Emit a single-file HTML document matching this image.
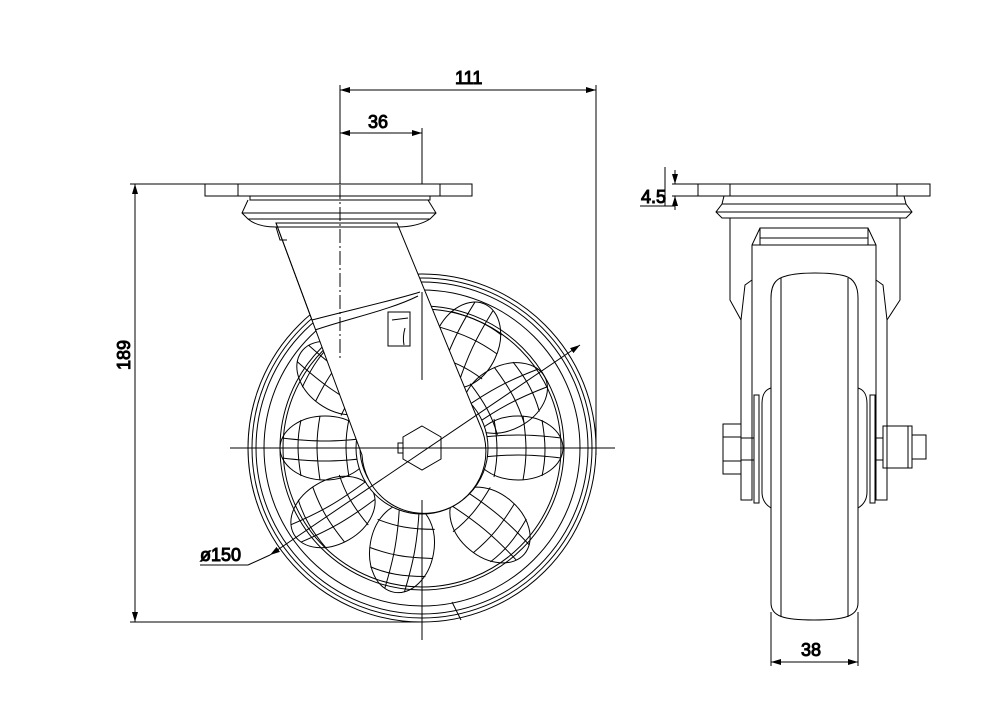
<!DOCTYPE html>
<html><head><meta charset="utf-8"><style>
html,body{margin:0;padding:0;background:#fff}
svg{display:block}
text{font-family:"Liberation Sans",sans-serif;font-size:18px;fill:#000;font-weight:normal}
</style></head><body>
<svg width="1005" height="720" viewBox="0 0 1005 720" xmlns="http://www.w3.org/2000/svg" fill="none" stroke="#000" stroke-width="1">
<defs>
<marker id="a" viewBox="0 0 10 6" refX="10" refY="3" markerWidth="10" markerHeight="6" orient="auto-start-reverse" markerUnits="userSpaceOnUse"><path d="M0,0 L10,3 L0,6 Z" fill="#000" stroke="none"/></marker>
<g id="lobe">
<ellipse cx="0" cy="0" rx="45" ry="32"/>
<path d="M-24,-29 C-20,-5 -20,10 -24,29 M5,-32 C9,-5 9,10 5,32 M24,-28 C28,-5 28,10 24,28 M-43,-10 C-10,-14 10,-14 43,-10 M-43,10 C-10,6 10,6 43,10"/>
</g>
</defs>

<!-- dimensions left view -->
<line x1="340" y1="85" x2="340" y2="185"/>
<line x1="596" y1="85" x2="596" y2="455"/>
<line x1="340" y1="90" x2="596" y2="90" marker-start="url(#a)" marker-end="url(#a)"/>
<text x="455" y="84">111</text>
<line x1="422" y1="128" x2="422" y2="185"/>
<line x1="340" y1="133" x2="422" y2="133" marker-start="url(#a)" marker-end="url(#a)"/>
<text x="368" y="128">36</text>
<line x1="130" y1="184" x2="205" y2="184"/>
<line x1="130" y1="622" x2="420" y2="622"/>
<line x1="135" y1="184" x2="135" y2="622" marker-start="url(#a)" marker-end="url(#a)"/>
<text transform="translate(130,370) rotate(-90)">189</text>

<!-- wheel front -->
<circle cx="422" cy="448" r="174"/>
<circle cx="422" cy="448" r="170"/>
<circle cx="422" cy="448" r="166"/>
<circle cx="422" cy="448" r="158"/>
<circle cx="422" cy="448" r="142"/>
<circle cx="422" cy="448" r="139"/>
<line x1="452" y1="602" x2="461" y2="620"/>
<g>
<use href="#lobe" transform="translate(518,448) rotate(0)"/>
<use href="#lobe" transform="translate(505,398) rotate(-28)"/>
<use href="#lobe" transform="translate(466,345) rotate(-65)"/>
<use href="#lobe" transform="translate(490,525) rotate(40)"/>
<use href="#lobe" transform="translate(402,548) rotate(100)"/>
<use href="#lobe" transform="translate(333,512) rotate(150)"/>
<use href="#lobe" transform="translate(325,448) rotate(180)"/>
<use href="#lobe" transform="translate(338,378) rotate(215)"/>
</g>
<circle cx="422" cy="448" r="66" fill="#fff"/>
<circle cx="422" cy="448" r="62"/>

<!-- fork -->
<path d="M276,223 L362,455 A62,62 0 1 0 480,425 L397,223 Z" fill="#fff"/>
<path d="M315,330 C350,318 390,310 418,296"/>
<path d="M276,223 L312,320 C350,310 395,300 420,292"/>
<rect x="388" y="312" width="22" height="34"/>
<path d="M392,320 L408,318 M405,328 C403,335 403,340 404,345"/>
<polygon points="422,426 441,437 441,459 422,470 403,459 403,437" fill="#fff"/>
<rect x="398" y="443" width="5" height="10"/>

<!-- top plate left -->
<rect x="205" y="184" width="267" height="12" fill="#fff"/>
<line x1="238" y1="184" x2="238" y2="196"/>
<line x1="440" y1="184" x2="440" y2="196"/>
<path d="M250,196 L250,200 L430,200 L430,196 M248,200 L242,213 L248,219 L430,219 L436,213 L428,200 M242,213 L436,213 M248,219 C255,225 265,227 276,227 L397,227 C410,227 422,224 430,219"/>
<path d="M276,227 L280,240 L287,240"/>

<!-- center lines -->
<line x1="340" y1="185" x2="340" y2="360" stroke-dasharray="14,3,2,3"/>
<line x1="230" y1="448" x2="615" y2="448"/>
<line x1="422" y1="292" x2="422" y2="380"/>
<line x1="422" y1="500" x2="422" y2="640"/>

<!-- diameter leader -->
<line x1="580" y1="345" x2="270" y2="555" marker-start="url(#a)" marker-end="url(#a)"/>
<line x1="270" y1="555" x2="248" y2="565"/>
<line x1="200" y1="565" x2="248" y2="565"/>
<text x="200" y="561">ø150</text>

<!-- right view -->
<rect x="698" y="184" width="232" height="12"/>
<line x1="730" y1="184" x2="730" y2="196"/>
<line x1="897" y1="184" x2="897" y2="196"/>
<path d="M724,196 L722,204 L716,212 L722,218 L906,218 L912,212 L906,204 L904,196 M722,204 L906,204 M716,212 L912,212"/>
<path d="M730,218 L730,300 L741,320 L741,500 L752,500 L752,245 L760,228 L868,228 L876,245 L876,500 L887,500 L887,320 L900,300 L900,218"/>
<path d="M752,245 L760,245 L760,228 M868,228 L868,245 L876,245 M760,238 L868,238 M760,245 L868,245"/>
<path d="M741,320 L745,285 L752,280 M887,320 L883,285 L876,280"/>
<path d="M771,298 C771,282 778,278 786,276 C800,272 830,272 845,276 C852,278 858,284 858,298 L858,603 C858,616 845,620 814,620 C783,620 771,616 771,603 Z" fill="#fff"/>
<line x1="781" y1="278" x2="781" y2="617"/>
<line x1="848" y1="278" x2="848" y2="617"/>
<path d="M771,388 C764,390 762,396 762,404 L762,492 C762,500 766,505 771,508 M858,388 C865,390 867,396 867,404 L867,492 C867,500 863,505 858,508"/>
<rect x="754" y="395" width="5" height="108"/>
<rect x="870" y="395" width="5" height="108"/>
<rect x="723" y="424" width="18" height="50"/>
<line x1="723" y1="437" x2="741" y2="437"/><line x1="723" y1="461" x2="741" y2="461"/>
<rect x="741" y="438" width="13" height="22"/>
<rect x="875" y="438" width="8" height="22"/>
<rect x="883" y="426" width="29" height="42"/>
<line x1="908" y1="426" x2="908" y2="468"/>
<rect x="912" y="435" width="14" height="24"/>
<line x1="665" y1="167" x2="665" y2="206"/>
<line x1="672" y1="184" x2="698" y2="184"/>
<line x1="672" y1="196" x2="698" y2="196"/>
<line x1="675" y1="170" x2="675" y2="184" marker-end="url(#a)"/>
<line x1="675" y1="210" x2="675" y2="196" marker-end="url(#a)"/>
<line x1="640" y1="206" x2="675" y2="206"/>
<text x="641" y="203">4.5</text>
<line x1="771" y1="612" x2="771" y2="666"/>
<line x1="858" y1="612" x2="858" y2="666"/>
<line x1="771" y1="662" x2="858" y2="662" marker-start="url(#a)" marker-end="url(#a)"/>
<text x="801" y="656">38</text>
</svg>
</body></html>
